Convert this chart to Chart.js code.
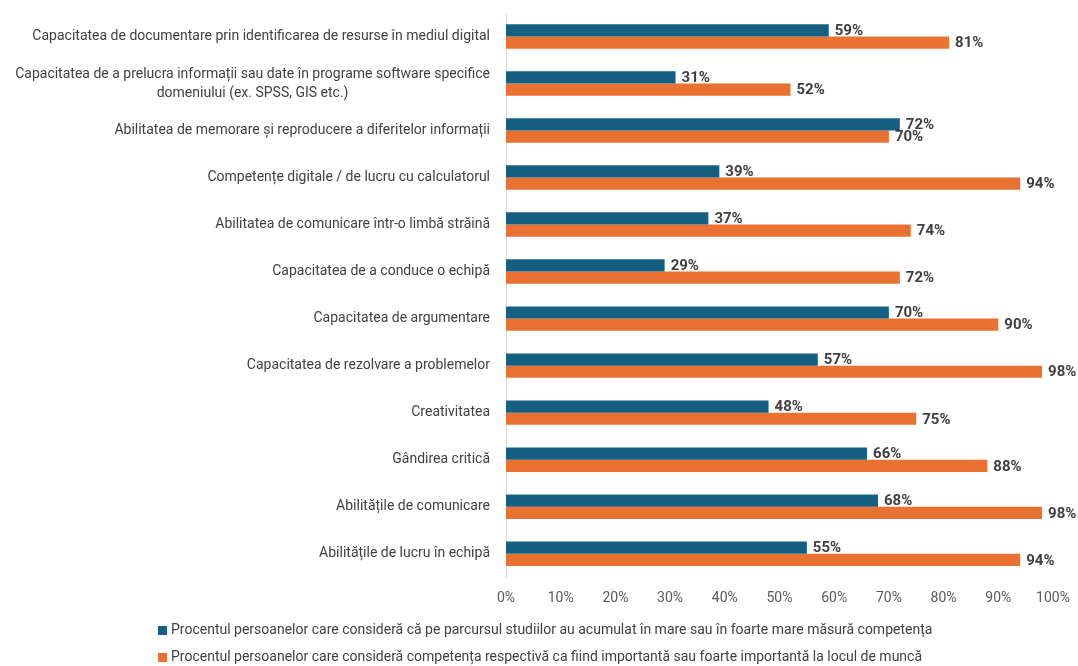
<!DOCTYPE html>
<html>
<head>
<meta charset="utf-8">
<style>
  html, body { margin: 0; padding: 0; background: #fff; }
</style>
</head>
<body>
<canvas id="skillsChart" width="1078" height="666"></canvas>

<script src="https://cdn.jsdelivr.net/npm/chart.js"></script>
<script>
  const categories = [
    "Capacitatea de documentare prin identificarea de resurse în mediul digital",
    ["Capacitatea de a prelucra informații sau date în programe software specifice", "domeniului (ex. SPSS, GIS etc.)"],
    "Abilitatea de memorare și reproducere a diferitelor informații",
    "Competențe digitale / de lucru cu calculatorul",
    "Abilitatea de comunicare într-o limbă străină",
    "Capacitatea de a conduce o echipă",
    "Capacitatea de argumentare",
    "Capacitatea de rezolvare a problemelor",
    "Creativitatea",
    "Gândirea critică",
    "Abilitățile de comunicare",
    "Abilitățile de lucru în echipă"
  ];
  const acquired = [59, 31, 72, 39, 37, 29, 70, 57, 48, 66, 68, 55];
  const important = [81, 52, 70, 94, 74, 72, 90, 98, 75, 88, 98, 94];
  const seriesNames = [
    "Procentul persoanelor care consideră că pe parcursul studiilor au acumulat în mare sau în foarte mare măsură competența",
    "Procentul persoanelor care consideră competența respectivă ca fiind importantă sau foarte importantă la locul de muncă"
  ];
  const xTicks = [0, 10, 20, 30, 40, 50, 60, 70, 80, 90, 100];

  const BLUE = "#156082";
  const ORANGE = "#e97132";
  const FONT = "Roboto";

  // category labels drawn by hand so the 2-line one is centred like in Excel
  const yLabels = {
    id: "yLabels",
    afterDraw(chart) {
      const { ctx, scales: { y }, chartArea } = chart;
      ctx.save();
      ctx.font = "14px " + FONT;
      ctx.fillStyle = "#404040";
      ctx.textAlign = "center";
      ctx.textBaseline = "middle";
      const right = chartArea.left - 16;
      categories.forEach((lab, i) => {
        const lines = Array.isArray(lab) ? lab : [lab];
        const maxW = Math.max(...lines.map(l => ctx.measureText(l).width));
        const yc = y.getPixelForValue(i);
        lines.forEach((l, k) => {
          ctx.fillText(l, right - maxW / 2, yc + (k - (lines.length - 1) / 2) * 19);
        });
      });
      ctx.restore();
    }
  };

  const valueLabels = {
    id: "valueLabels",
    afterDatasetsDraw(chart) {
      const { ctx } = chart;
      ctx.save();
      ctx.font = "bold 15px " + FONT;
      ctx.fillStyle = "#404040";
      ctx.textAlign = "left";
      ctx.textBaseline = "middle";
      chart.data.datasets.forEach((ds, di) => {
        chart.getDatasetMeta(di).data.forEach((bar, i) => {
          ctx.fillText(ds.data[i] + "%", bar.x + 6, bar.y + 1);
        });
      });
      ctx.restore();
    }
  };

  const legendRows = {
    id: "legendRows",
    afterDraw(chart) {
      const { ctx } = chart;
      ctx.save();
      ctx.font = "14px " + FONT;
      ctx.textBaseline = "middle";
      chart.data.datasets.forEach((ds, di) => {
        const yy = chart.height - 36 + di * 27;
        ctx.fillStyle = ds.backgroundColor;
        ctx.fillRect(158, yy - 4, 9, 9);
        ctx.fillStyle = "#404040";
        ctx.fillText(ds.label, 171, yy);
      });
      ctx.restore();
    }
  };

  new Chart(document.getElementById("skillsChart"), {
    type: "bar",
    data: {
      labels: categories,
      datasets: [
        { label: seriesNames[0], data: acquired, backgroundColor: BLUE },
        { label: seriesNames[1], data: important, backgroundColor: ORANGE }
      ]
    },
    options: {
      indexAxis: "y",
      responsive: false,
      animation: false,
      devicePixelRatio: 1,
      categoryPercentage: 0.52,
      barPercentage: 1,
      layout: { padding: { top: 13, right: 25, bottom: 46, left: 0 } },
      plugins: {
        legend: { display: false },
        tooltip: { enabled: false }
      },
      scales: {
        x: {
          min: 0,
          max: 100,
          afterBuildTicks: s => { s.ticks = xTicks.map(v => ({ value: v })); },
          afterFit: s => { s.paddingRight = 0; s.paddingLeft = 0; },
          grid: { display: false, drawTicks: false },
          border: { display: false },
          ticks: {
            padding: 13,
            color: "#595959",
            font: { family: FONT, size: 14 },
            callback: v => v + "%"
          }
        },
        y: {
          grid: { display: false, drawTicks: false },
          border: { display: true, color: "#d9d9d9" },
          ticks: { display: false },
          afterFit: s => { s.width = 506; }
        }
      }
    },
    plugins: [yLabels, valueLabels, legendRows]
  });
</script>
</body>
</html>
